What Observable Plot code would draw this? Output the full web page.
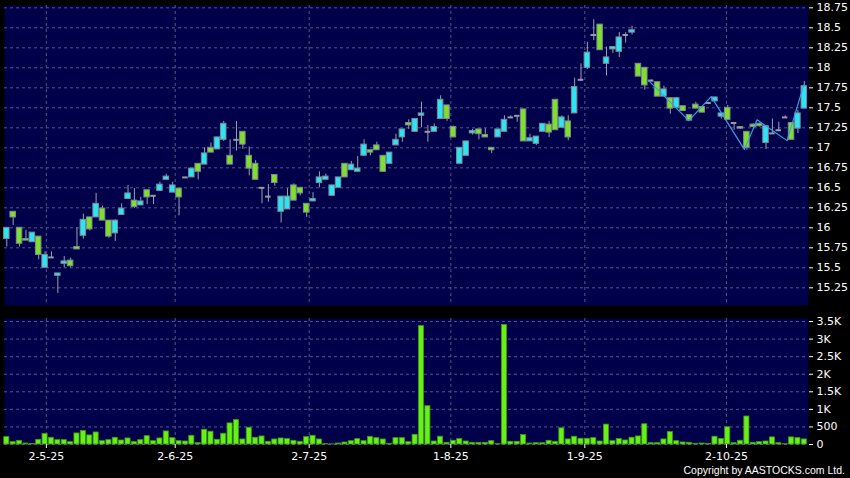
<!DOCTYPE html>
<html><head><meta charset="utf-8">
<script src="https://cdn.jsdelivr.net/npm/d3@7"></script>
<script src="https://cdn.jsdelivr.net/npm/@observablehq/plot@0.6"></script>
<style>
html,body{margin:0;padding:0;background:#000;}
#wrap{position:relative;width:850px;height:478px;background:#000;overflow:hidden;}
#main{position:absolute;left:0;top:0;}
#vol{position:absolute;left:0;top:310px;}
#copy{position:absolute;right:5px;top:465px;color:#fff;font:10.5px "Liberation Sans",Arial,sans-serif;line-height:11px;}
</style></head><body>
<div id="wrap"><div id="main"></div><div id="vol"></div><div id="copy">Copyright by AASTOCKS.com Ltd.</div></div>
<script>
// ---- data (one entry per trading day) ----
const open  = [15.86,16.2,16.0,15.86,15.82,15.89,15.5,15.63,15.4,15.55,15.59,15.76,15.9,16.13,16.13,16.24,16.09,15.93,16.16,16.36,
  16.34,16.28,16.47,16.4,16.46,16.6,16.44,16.49,16.63,16.63,16.8,16.79,17.0,16.98,17.1,16.9,17.1,17.2,16.9,16.8,
  16.5,16.39,16.66,16.2,16.23,16.53,16.5,16.3,16.33,16.56,16.6,16.4,16.5,16.8,16.72,16.7,16.9,16.97,17.03,16.9,
  16.8,17.03,17.13,17.31,17.2,17.4,17.2,17.2,17.36,17.53,17.26,16.8,16.9,17.18,17.23,17.16,17.0,17.13,17.2,17.38,
  17.4,17.48,17.08,17.05,17.2,17.29,17.6,17.25,17.33,17.43,17.85,18.0,18.41,18.54,18.05,18.23,18.2,18.41,18.44,18.05,
  18.0,17.84,17.82,17.64,17.62,17.5,17.52,17.41,17.54,17.51,17.56,17.58,17.39,17.5,17.31,17.26,17.2,17.29,17.3,17.06,
  17.18,17.22,17.38,17.31,17.24,17.49];
const high  = [16.0,16.2,16.0,15.97,15.94,15.89,15.7,15.7,15.43,15.64,15.62,16.0,16.17,16.13,16.43,16.27,16.09,16.1,16.3,16.53,
  16.49,16.38,16.47,16.4,16.57,16.67,16.57,16.49,16.63,16.74,16.8,17.0,17.06,17.13,17.33,17.1,17.33,17.2,17.01,16.84,
  16.5,16.54,16.66,16.39,16.49,16.55,16.5,16.3,16.44,16.7,16.67,16.53,16.63,16.8,16.83,16.89,17.1,16.97,17.07,16.9,
  16.94,17.17,17.23,17.35,17.36,17.57,17.28,17.3,17.65,17.53,17.27,17.0,17.08,17.23,17.23,17.24,17.0,17.23,17.4,17.4,
  17.4,17.48,17.17,17.14,17.3,17.33,17.6,17.4,17.4,17.87,18.05,18.32,18.6,18.54,18.26,18.26,18.44,18.44,18.52,18.05,
  18.0,17.85,17.82,17.77,17.62,17.63,17.52,17.41,17.57,17.51,17.57,17.63,17.43,17.53,17.31,17.26,17.2,17.3,17.31,17.27,
  17.36,17.32,17.4,17.31,17.47,17.83];
const low   = [15.76,16.03,15.76,15.84,15.82,15.6,15.5,15.63,15.18,15.5,15.5,15.73,15.86,15.96,16.13,16.09,15.87,15.83,16.16,16.36,
  16.24,16.28,16.29,16.29,16.46,16.6,16.44,16.15,16.62,16.63,16.6,16.79,16.94,16.98,17.08,16.79,16.96,16.98,16.65,16.6,
  16.3,16.32,16.52,16.06,16.23,16.34,16.4,16.13,16.33,16.5,16.6,16.4,16.5,16.63,16.72,16.7,16.9,16.9,16.97,16.7,
  16.8,17.03,17.07,17.23,17.2,17.25,17.07,17.2,17.36,17.33,17.13,16.8,16.9,17.16,17.1,17.13,16.93,17.13,17.2,17.38,
  17.32,17.08,17.08,17.03,17.2,17.13,17.22,17.25,17.09,17.43,17.85,17.98,18.34,18.22,17.9,18.18,18.13,18.31,18.41,17.89,
  17.72,17.83,17.64,17.64,17.42,17.5,17.46,17.34,17.49,17.44,17.55,17.58,17.36,17.35,17.22,17.23,16.97,17.26,17.26,16.98,
  17.18,17.2,17.38,17.1,17.18,17.49];
const close = [16.0,16.13,15.8,15.84,15.94,15.66,15.66,15.63,15.43,15.58,15.52,15.73,16.1,15.98,16.3,16.09,15.89,16.09,16.24,16.43,
  16.26,16.33,16.38,16.4,16.54,16.64,16.53,16.38,16.63,16.74,16.7,16.93,16.94,17.13,17.3,16.79,17.1,17.04,16.74,16.6,
  16.5,16.39,16.56,16.39,16.39,16.34,16.43,16.19,16.36,16.63,16.64,16.53,16.63,16.63,16.79,16.74,17.04,16.94,16.97,16.7,
  16.94,17.1,17.23,17.28,17.36,17.43,17.2,17.26,17.6,17.36,17.13,17.0,17.08,17.21,17.17,17.13,16.97,17.23,17.35,17.38,
  17.4,17.08,17.12,17.14,17.3,17.19,17.22,17.38,17.13,17.76,17.85,18.19,18.41,18.22,18.13,18.26,18.38,18.41,18.47,17.89,
  17.78,17.84,17.64,17.73,17.49,17.62,17.46,17.34,17.49,17.44,17.56,17.63,17.43,17.35,17.31,17.24,17.0,17.26,17.27,17.27,
  17.18,17.22,17.38,17.1,17.43,17.77];
const volume = [210,67,105,29,15,134,296,191,124,124,67,315,382,258,343,95,124,191,114,172,
  67,124,238,95,172,372,181,95,86,248,38,420,363,134,305,601,696,143,477,191,
  229,76,143,172,153,105,76,210,248,143,10,5,29,57,95,153,95,219,181,143,
  19,181,181,67,277,3370,1090,86,221,48,106,154,86,48,48,48,96,10,3400,77,
  77,269,29,38,38,106,77,461,144,221,163,163,182,86,566,96,154,115,192,230,
  576,38,38,144,355,96,58,48,19,29,19,221,154,490,38,106,797,48,67,86,
  202,38,10,202,182,144];
// zig-zag line (position in trading-day units, price)
const zigPos = [100.6,106.9,110.4,115.6,117.6,122.3,124.9];
const zigVal = [17.84,17.34,17.64,16.98,17.35,17.09,17.78];
// axes
const priceTicks = [15.25,15.5,15.75,16,16.25,16.5,16.75,17,17.25,17.5,17.75,18,18.25,18.5,18.75];
const volTicks = [0,500,1000,1500,2000,2500,3000,3500];
const dateTickPos = [6.2,26.4,47.4,69.6,90.6,112.8];
const dateTickLabels = ["2-5-25","2-6-25","2-7-25","1-8-25","1-9-25","2-10-25"];

const NAVY = "#00004a", GRID = "#55558c", CYAN = "#2de4f4", GREEN = "#7ee02a",
      DOJI = "#9a9aa4", WICK = "#9aa2ac", EDGE = "#7c8c90", VOL = "#66f015", VOLEDGE = "#3d9a12";
const HW = 0.43;
const idx = d3.range(open.length);
const up = idx.filter(i => close[i] > open[i]);
const down = idx.filter(i => close[i] < open[i]);
const doji = idx.filter(i => close[i] === open[i]);
const xScale = {type: "linear", domain: [0, 125], range: [6.3, 803.8], axis: null};
const style = {background: "#000", color: "#fff", fontFamily: "DejaVu Sans, sans-serif", fontSize: "11px", overflow: "visible"};
const gridOpts = {stroke: GRID, strokeOpacity: 1, strokeDasharray: "3,3"};

const main = Plot.plot({
  width: 850, height: 310, marginLeft: 4, marginRight: 42, marginTop: 5, marginBottom: 5,
  style,
  x: xScale,
  y: {domain: [15.029, 18.779]},
  marks: [
    Plot.frame({fill: NAVY, stroke: "none"}),
    Plot.gridY(priceTicks, gridOpts),
    Plot.gridX(dateTickPos, gridOpts),
    Plot.ruleX(idx, {x: i => i, y1: i => low[i], y2: i => high[i], stroke: WICK, strokeWidth: 1}),
    Plot.rect(up, {x1: i => i - HW, x2: i => i + HW, y1: i => open[i], y2: i => close[i], fill: CYAN, stroke: EDGE, strokeWidth: 1}),
    Plot.rect(down, {x1: i => i - HW, x2: i => i + HW, y1: i => open[i], y2: i => close[i], fill: GREEN, stroke: EDGE, strokeWidth: 1}),
    Plot.ruleY(doji, {x1: i => i - HW, x2: i => i + HW, y: i => open[i], stroke: DOJI, strokeWidth: 2}),
    Plot.line(d3.range(zigPos.length), {x: i => zigPos[i], y: i => zigVal[i], stroke: "#3c9fe6", strokeWidth: 1.2}),
    Plot.axisY(priceTicks, {anchor: "right", tickSize: 4, tickPadding: 4, tickFormat: d => String(d), fill: "#fff", stroke: "#fff"})
  ]
});
document.getElementById("main").appendChild(main);

const fmtK = d => d === 0 ? "0" : d < 1000 ? String(d) : (d / 1000) + "K";
const vol = Plot.plot({
  width: 850, height: 168, marginLeft: 4, marginRight: 42, marginTop: 8, marginBottom: 34,
  style,
  x: xScale,
  y: {domain: [0, 3586]},
  marks: [
    Plot.frame({fill: NAVY, stroke: "none"}),
    Plot.gridY(volTicks, gridOpts),
    Plot.gridX(dateTickPos, gridOpts),
    Plot.rect(idx, {x1: i => i - 0.4, x2: i => i + 0.4, y1: 0, y2: i => volume[i], fill: VOL, stroke: VOLEDGE, strokeWidth: 0.8}),
    Plot.axisY(volTicks, {anchor: "right", tickSize: 4, tickPadding: 4, tickFormat: fmtK, fill: "#fff", stroke: "#fff"}),
    Plot.axisX(dateTickPos, {anchor: "bottom", tickSize: 4, tickPadding: 4, tickFormat: d => dateTickLabels[dateTickPos.indexOf(d)], fill: "#fff", stroke: "#fff"})
  ]
});
document.getElementById("vol").appendChild(vol);
</script>
</body></html>
